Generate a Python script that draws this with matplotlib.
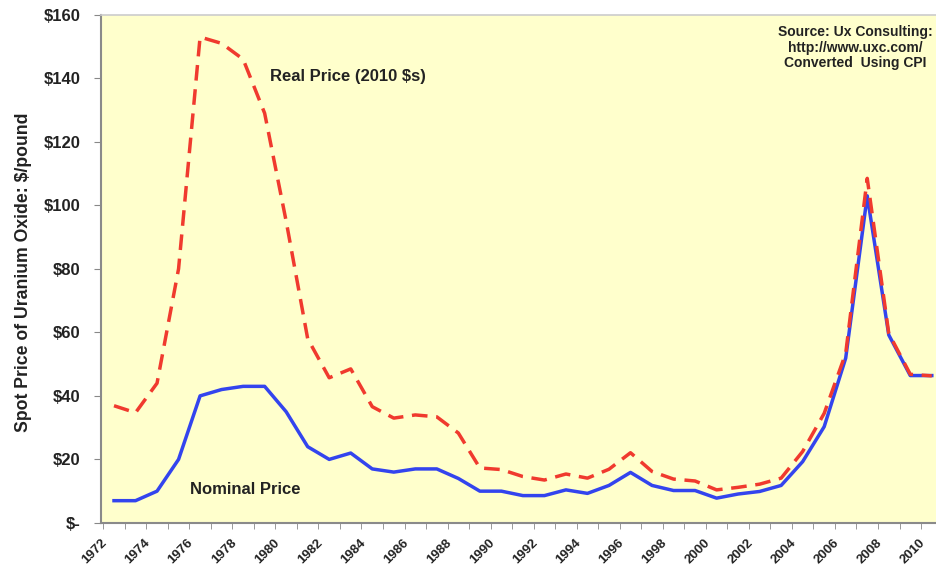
import matplotlib.pyplot as plt
import numpy as np

plt.rcParams['font.family'] = ['Liberation Sans', 'DejaVu Sans']
plt.rcParams['text.parse_math'] = False

years = np.arange(1972, 2011)
nominal = [7, 7, 10, 20, 40, 42, 43, 43, 35, 24,
           20, 22, 17, 16, 17, 17, 14, 10, 10, 8.6,
           8.6, 10.4, 9.3, 11.8, 15.9, 11.8, 10.2, 10.2, 7.8, 9.1,
           9.9, 11.8, 19.3, 30.3, 51.9, 103, 59.2, 46.4, 46.4]
real = [36.9, 34.7, 44, 80, 153, 151, 146, 129, 95, 58,
        45.7, 48.5, 36.6, 33, 34, 33.4, 28.3, 17.3, 16.8, 14.6,
        13.5, 15.4, 14.1, 16.9, 22.1, 16.2, 13.8, 13.2, 10.4, 11.2,
        12.2, 14.1, 22.5, 34.5, 53.4, 108.5, 59.7, 46.8, 46.3]
ytick_vals = [0, 20, 40, 60, 80, 100, 120, 140, 160]
ytick_labels = ['$-', '$20', '$40', '$60', '$80', '$100', '$120', '$140', '$160']
xtick_years = np.arange(1972, 2011, 2)
source_lines = ['Source: Ux Consulting:', 'http://www.uxc.com/', 'Converted  Using CPI']

fig = plt.figure(figsize=(9.36, 5.69), dpi=100)
ax = fig.add_axes([0.108, 0.081, 0.899, 0.893])
ax.set_facecolor('#FFFFCC')

ax.plot(years, nominal, color='#3344EE', linewidth=2.5, solid_joinstyle='round')
ax.plot(years, real, color='#F03A2E', linewidth=2.5, linestyle=(0, (4.5, 2.5)))

ax.set_xlim(1971.5, 2010.5)
ax.set_ylim(0, 160)
ax.set_yticks(ytick_vals)
ax.set_yticklabels(ytick_labels, fontsize=12, fontweight='bold', color='#222222')
# rotated labels hang a little left of the category centre
ax.set_xticks(xtick_years - 0.6)
ax.set_xticklabels([str(y) for y in xtick_years], rotation=45, ha='right',
                   rotation_mode='anchor', fontsize=9.5, fontweight='bold', color='#222222')
ax.set_xticks(np.arange(1971.5, 2011, 1), minor=True)
ax.tick_params(axis='x', which='major', length=0, pad=10)
ax.tick_params(axis='x', which='minor', length=4, color='#888888')
ax.tick_params(axis='y', length=5, color='#888888', pad=10)

for s in ['left', 'bottom']:
    ax.spines[s].set_color('#8a8a8a')
    ax.spines[s].set_linewidth(1.5)
for s in ['top', 'right']:
    ax.spines[s].set_color('#cccccc')
    ax.spines[s].set_linewidth(1.2)

ax.set_ylabel('Spot Price of Uranium Oxide: $/pound', fontsize=12.7,
              fontweight='bold', color='#222222')
ax.yaxis.set_label_coords(-0.082, 0.494)

ax.text(1979.24, 140.5, 'Real Price (2010 $s)', fontsize=12, fontweight='bold',
        color='#222222', va='center')
ax.text(1975.54, 10.4, 'Nominal Price', fontsize=12, fontweight='bold',
        color='#222222', va='center')
for line, yv in zip(source_lines, [154.6, 149.6, 144.8]):
    ax.text(2006.45, yv, line, fontsize=10, fontweight='bold', color='#222222',
            ha='center', va='center')

fig.savefig('out.png', dpi=100)
